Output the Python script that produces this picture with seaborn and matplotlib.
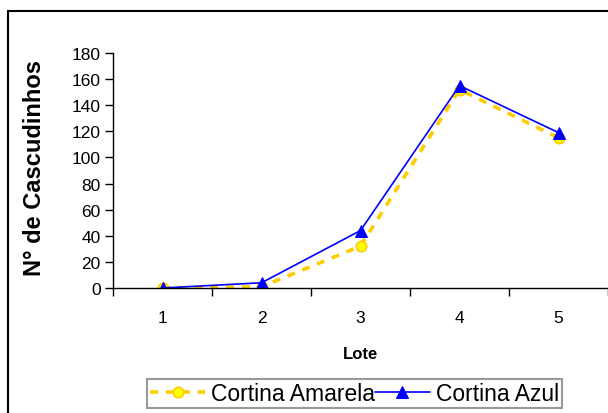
import matplotlib
matplotlib.use("Agg")
import matplotlib.pyplot as plt
import seaborn as sns
import pandas as pd
from matplotlib.patches import Rectangle

lotes = [1, 2, 3, 4, 5]
amarela = [0, 1, 32, 152, 115]
azul = [0, 4, 44, 155, 119]
series_names = ["Cortina Amarela", "Cortina Azul"]
yticks = [0, 20, 40, 60, 80, 100, 120, 140, 160, 180]

sns.set_style("white")
plt.rcParams['font.family'] = ['Liberation Sans', 'DejaVu Sans']
plt.rcParams['text.color'] = 'black'
plt.rcParams['axes.labelcolor'] = 'black'
plt.rcParams['xtick.color'] = 'black'
plt.rcParams['ytick.color'] = 'black'

df_am = pd.DataFrame({"Lote": lotes, "N": amarela})
df_az = pd.DataFrame({"Lote": lotes, "N": azul})

fig = plt.figure(figsize=(6.08, 4.14), dpi=100)
ax = fig.add_axes([113/608, 1-289/414, 1-113/608, (289-54)/414])

sns.lineplot(data=df_am, x="Lote", y="N", ax=ax, color="#FFCC00", linewidth=2.6,
             linestyle=(0, (2.2, 2.2)), marker="o", markersize=7.5,
             markerfacecolor="#FFFF00", markeredgecolor="#FFCC00", markeredgewidth=1.2,
             label=series_names[0])
sns.lineplot(data=df_az, x="Lote", y="N", ax=ax, color="#0000FF", linewidth=1.2,
             marker="^", markersize=8, markerfacecolor="#0000FF",
             markeredgecolor="#0000FF", label=series_names[1])

ax.set_xlim(0.5, 5.5)
ax.set_ylim(0, 180)
ax.set_yticks(yticks)
ax.set_xticks(lotes)
ax.set_xticks([0.5, 1.5, 2.5, 3.5, 4.5, 5.5], minor=True)
ax.tick_params(axis="x", which="major", length=0, labelsize=12.5, pad=16, colors="black")
ax.tick_params(axis="x", which="minor", bottom=True, length=6, width=1, color="black",
               direction="out")
ax.tick_params(axis="y", which="major", length=6, width=1, direction="out", labelsize=12.5,
               pad=3, left=True, colors="black")
for s in ["top", "right"]:
    ax.spines[s].set_visible(False)
for s in ["left", "bottom"]:
    ax.spines[s].set_color("black")
    ax.spines[s].set_linewidth(1)

ax.set_xlabel("Lote", fontsize=12, fontweight="bold", labelpad=15, color="black")
ax.set_ylabel("")
fig.text(35/608, 1-168/414, "N° de Cascudinhos", rotation=90, fontsize=17,
         fontweight="bold", ha="center", va="center", color="black")

leg = ax.legend(loc="center", bbox_to_anchor=(354.5/608, 19.5/414),
                bbox_transform=fig.transFigure, ncol=2, fontsize=16.5,
                frameon=True, fancybox=False, edgecolor="#808080",
                handlelength=2.4, handletextpad=0.25, columnspacing=0.0,
                borderpad=0.15, borderaxespad=0)
leg.get_frame().set_linewidth(1.5)
for t in leg.get_texts():
    t.set_color("black")

fig.patches.append(Rectangle((8/608, -0.1), 1.2, 1.1 - 12/414, transform=fig.transFigure,
                             fill=False, edgecolor="black", linewidth=1.5))

fig.savefig("out.png", dpi=100)
